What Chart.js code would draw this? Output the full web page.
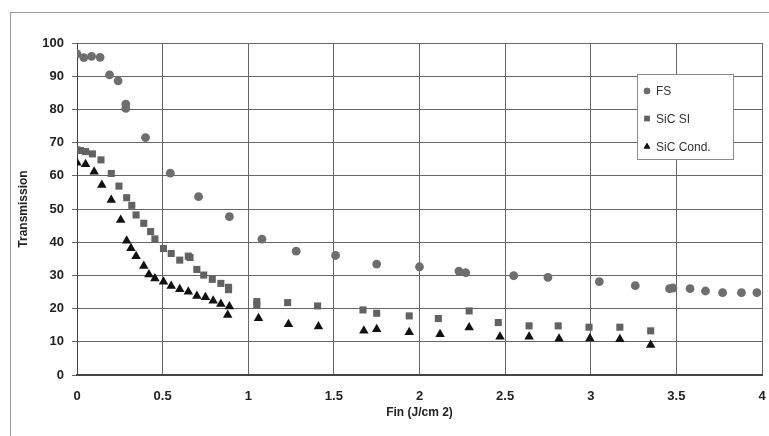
<!DOCTYPE html>
<html lang="en">
<head>
<meta charset="UTF-8">
<script src="https://cdn.jsdelivr.net/npm/chart.js@4.4.1/dist/chart.umd.min.js"></script>
<title>Transmission</title>
<style>
  body { margin: 0; background: #fff; }
  #wrap { position: relative; width: 769px; height: 436px; }
  #frame { position: absolute; left: 10px; top: 12px; width: 770px; height: 440px; border: 1px solid #9a9a9a; box-sizing: border-box; }
</style>
</head>
<body>
<div id="wrap">
  <div id="frame"></div>
  <canvas id="myChart" width="769" height="436"></canvas>
</div>
<script>
const xTicks = [0, 0.5, 1, 1.5, 2, 2.5, 3, 3.5, 4];
const yTicks = [0, 10, 20, 30, 40, 50, 60, 70, 80, 90, 100];
const seriesNames = ['FS', 'SiC SI', 'SiC Cond.'];

const fsX = [0, 0.04, 0.085, 0.135, 0.19, 0.24, 0.285, 0.285, 0.4, 0.545, 0.71, 0.89,
  1.08, 1.28, 1.51, 1.75, 2.0, 2.23, 2.27, 2.55, 2.75, 3.05, 3.26, 3.46, 3.48, 3.58, 3.67, 3.77, 3.88, 3.97];
const fsY = [96.7, 95.6, 96, 95.7, 90.4, 88.6, 81.6, 80.3, 71.5, 60.8, 53.7, 47.7,
  40.9, 37.3, 36.0, 33.4, 32.6, 31.3, 30.8, 29.9, 29.4, 28.1, 26.9, 26.0, 26.2, 26.0, 25.3, 24.8, 24.8, 24.8];

const siX = [0, 0.02, 0.05, 0.09, 0.14, 0.2, 0.245, 0.29, 0.32, 0.345, 0.39, 0.43, 0.455, 0.505, 0.55, 0.6, 0.65, 0.66, 0.7, 0.74, 0.79, 0.84, 0.885, 0.885,
  1.05, 1.05, 1.23, 1.405, 1.67, 1.75, 1.94, 2.11, 2.29, 2.46, 2.64, 2.81, 2.99, 3.17, 3.35];
const siY = [67.8, 67.6, 67.3, 66.6, 64.8, 60.7, 56.9, 53.4, 51.1, 48.2, 45.7, 43.2, 41.0, 38.1, 36.6, 34.6, 35.8, 35.4, 31.8, 30.1, 28.8, 27.6, 26.4, 25.7,
  22.1, 21.0, 21.8, 20.8, 19.6, 18.6, 17.8, 17.0, 19.3, 15.8, 14.8, 14.8, 14.4, 14.4, 13.3];

const condX = [0, 0.05, 0.1, 0.145, 0.2, 0.255, 0.29, 0.315, 0.345, 0.39, 0.42, 0.455, 0.505, 0.55, 0.6, 0.65, 0.7, 0.75, 0.795, 0.84, 0.89, 0.88,
  1.06, 1.235, 1.41, 1.675, 1.75, 1.94, 2.12, 2.29, 2.47, 2.64, 2.815, 2.995, 3.17, 3.35];
const condY = [63.9, 63.5, 61.2, 57.2, 52.7, 46.7, 40.4, 38.2, 35.8, 32.8, 30.3, 29.1, 28.1, 26.8, 25.8, 25.1, 23.8, 23.4, 22.4, 21.4, 20.6, 18.1,
  17.1, 15.3, 14.6, 13.3, 13.8, 12.9, 12.3, 14.3, 11.5, 11.5, 10.9, 11.0, 10.8, 9.0];

function pts(xs, ys) {
  return xs.map((x, i) => ({ x: x, y: ys[i] }));
}

const styles = [
  { color: '#6e6e6e', style: 'circle', radius: 4.4 },
  { color: '#626262', style: 'rect', radius: 5 },
  { color: '#111111', style: 'triangle', radius: 5.5 }
];

const legendBox = {
  id: 'legendBox',
  afterDraw(chart) {
    const ctx = chart.ctx;
    ctx.save();
    ctx.fillStyle = '#fff';
    ctx.fillRect(637, 74, 96, 85);
    ctx.strokeStyle = '#8a8a8a';
    ctx.lineWidth = 1;
    ctx.strokeRect(637.5, 74.5, 96, 85);
    const rows = [91, 118.5, 146.5];
    ctx.font = '12px "Liberation Sans", Arial, sans-serif';
    ctx.textBaseline = 'middle';
    seriesNames.forEach((name, i) => {
      const s = styles[i];
      ctx.fillStyle = s.color;
      Chart.helpers.drawPoint(ctx, { pointStyle: s.style, radius: i === 0 ? 3.2 : 3.8, borderWidth: 0 }, 647, rows[i]);
      ctx.fill();
      ctx.fillStyle = '#333';
      ctx.fillText(name, 656, rows[i] + 1);
    });
    ctx.restore();
  }
};

const ctx = document.getElementById('myChart').getContext('2d');
const myChart = new Chart(ctx, {
  type: 'scatter',
  data: {
    datasets: [
      { label: seriesNames[0], data: pts(fsX, fsY) },
      { label: seriesNames[1], data: pts(siX, siY) },
      { label: seriesNames[2], data: pts(condX, condY) }
    ].map((d, i) => Object.assign(d, {
      pointStyle: styles[i].style,
      pointRadius: styles[i].radius,
      backgroundColor: styles[i].color,
      borderColor: styles[i].color,
      borderWidth: 0
    }))
  },
  options: {
    responsive: false,
    animation: false,
    layout: { padding: { left: 12, right: 7, top: 43, bottom: 12 } },
    plugins: { legend: { display: false }, tooltip: { enabled: false } },
    scales: {
      x: {
        type: 'linear',
        min: 0,
        max: 4,
        afterBuildTicks: (s) => { s.ticks = xTicks.map(v => ({ value: v })); },
        afterFit: (s) => { s.height = 49; s.paddingLeft = 0; s.paddingRight = 0; },
        grid: { color: '#666', lineWidth: 1, drawTicks: false },
        border: { color: '#444', width: 2 },
        ticks: { color: '#222', padding: 14, maxRotation: 0, callback: (v) => String(v), font: { family: 'Liberation Sans', size: 13, weight: 'bold' } },
        title: { display: true, text: 'Fin (J/cm 2)', color: '#222', padding: { top: 4, bottom: 4 }, font: { family: 'Liberation Sans', size: 12, weight: 'bold' } }
      },
      y: {
        min: 0,
        max: 100,
        afterBuildTicks: (s) => { s.ticks = yTicks.map(v => ({ value: v })); },
        afterFit: (s) => { s.width = 65; s.paddingTop = 0; s.paddingBottom = 0; },
        grid: { color: '#666', lineWidth: 1, tickLength: 5 },
        border: { color: '#444', width: 1 },
        ticks: { color: '#222', padding: 8, font: { family: 'Liberation Sans', size: 13, weight: 'bold' } },
        title: { display: true, text: 'Transmission', color: '#222', padding: { bottom: 0 }, font: { family: 'Liberation Sans', size: 12, weight: 'bold' } }
      }
    }
  },
  plugins: [legendBox]
});
</script>
</body>
</html>
